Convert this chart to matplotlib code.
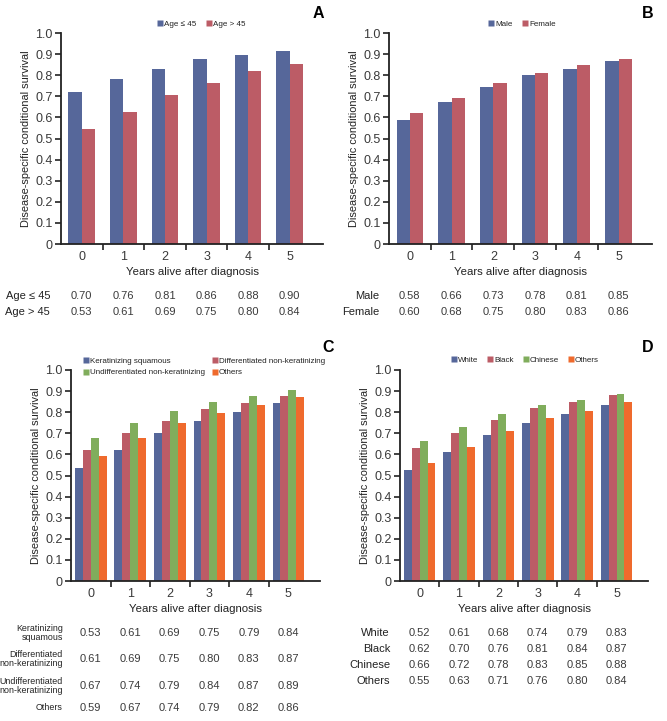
import numpy as np
import matplotlib
matplotlib.use("Agg")
import matplotlib.pyplot as plt
from matplotlib.transforms import blended_transform_factory
from matplotlib.lines import Line2D

plt.rcParams['font.family'] = ['Liberation Sans', 'DejaVu Sans']

years = [0, 1, 2, 3, 4, 5]

# bar heights
age_le45 = [0.72, 0.78, 0.83, 0.875, 0.895, 0.915]
age_gt45 = [0.545, 0.625, 0.705, 0.765, 0.82, 0.855]
male = [0.59, 0.672, 0.745, 0.80, 0.83, 0.868]
female = [0.62, 0.692, 0.762, 0.812, 0.848, 0.878]
kerat = [0.535, 0.62, 0.70, 0.76, 0.80, 0.845]
diff_nk = [0.62, 0.70, 0.76, 0.815, 0.843, 0.878]
undiff_nk = [0.68, 0.75, 0.805, 0.848, 0.878, 0.905]
hist_others = [0.593, 0.678, 0.75, 0.798, 0.833, 0.87]
white = [0.525, 0.61, 0.69, 0.75, 0.793, 0.835]
black = [0.63, 0.70, 0.765, 0.818, 0.85, 0.88]
chinese = [0.662, 0.73, 0.79, 0.832, 0.858, 0.888]
race_others = [0.558, 0.633, 0.712, 0.772, 0.808, 0.848]

# values printed in the tables under the plots
tab_age_le45 = ['0.70', '0.76', '0.81', '0.86', '0.88', '0.90']
tab_age_gt45 = ['0.53', '0.61', '0.69', '0.75', '0.80', '0.84']
tab_male = ['0.58', '0.66', '0.73', '0.78', '0.81', '0.85']
tab_female = ['0.60', '0.68', '0.75', '0.80', '0.83', '0.86']
tab_kerat = ['0.53', '0.61', '0.69', '0.75', '0.79', '0.84']
tab_diff = ['0.61', '0.69', '0.75', '0.80', '0.83', '0.87']
tab_undiff = ['0.67', '0.74', '0.79', '0.84', '0.87', '0.89']
tab_hist_oth = ['0.59', '0.67', '0.74', '0.79', '0.82', '0.86']
tab_white = ['0.52', '0.61', '0.68', '0.74', '0.79', '0.83']
tab_black = ['0.62', '0.70', '0.76', '0.81', '0.84', '0.87']
tab_chinese = ['0.66', '0.72', '0.78', '0.83', '0.85', '0.88']
tab_race_oth = ['0.55', '0.63', '0.71', '0.76', '0.80', '0.84']

BLUE = '#56679a'
RED = '#bc5c66'
GREEN = '#80ad5c'
ORANGE = '#ef6a2d'
TXT = '#3a3a3a'
DARK = '#222222'

W, H = 667, 721
fig = plt.figure(figsize=(W / 100, H / 100), dpi=100)


def px_axes(x0, y_top, x1, y_bot):
    return fig.add_axes([x0 / W, 1 - y_bot / H, (x1 - x0) / W, (y_bot - y_top) / H])


def draw_panel(ax, series, colors, width):
    x = np.arange(len(years))
    n = len(series)
    for i, (vals, c) in enumerate(zip(series, colors)):
        off = (i - (n - 1) / 2) * width
        ax.bar(x + off, vals, width, color=c, edgecolor='none')
    ax.set_xlim(-0.5, 5.8)
    ax.set_ylim(0, 1.0)
    ax.set_yticks(np.arange(0, 1.01, 0.1))
    ax.set_yticklabels(['0'] + ['%.1f' % v for v in np.arange(0.1, 1.01, 0.1)])
    ax.set_xticks(x)
    ax.set_xticklabels([str(y) for y in years])
    ax.set_xticks(np.arange(0.5, 5, 1), minor=True)
    ax.tick_params(axis='x', which='major', length=0, pad=5, labelsize=9, labelcolor=TXT)
    ax.tick_params(axis='x', which='minor', length=4, width=1.2, direction='out', color=DARK)
    ax.tick_params(axis='y', length=4, width=1.2, labelsize=9, labelcolor=TXT, pad=2,
                   color=DARK)
    for s in ['top', 'right']:
        ax.spines[s].set_visible(False)
    for s in ['left', 'bottom']:
        ax.spines[s].set_linewidth(1.3)
        ax.spines[s].set_color(DARK)
    ax.set_xlabel('Years alive after diagnosis', fontsize=8.2, color=DARK, labelpad=3)
    ax.set_ylabel('Disease-specific conditional survival', fontsize=7.9, color=DARK,
                  labelpad=3)


def legend(ax, labels, colors, ncol, xy_px, loc='center', colspacing=1.2):
    handles = [Line2D([], [], marker='s', linestyle='none', markersize=4,
                      markerfacecolor=c, markeredgecolor='none') for c in colors]
    ax.legend(handles, labels, ncol=ncol, loc=loc,
              bbox_to_anchor=(xy_px[0] / W, 1 - xy_px[1] / H),
              bbox_transform=fig.transFigure, frameon=False, fontsize=5.8,
              handletextpad=0.15, columnspacing=colspacing, labelspacing=0.5,
              handlelength=0.7, borderpad=0, labelcolor=DARK)


def table(ax, rows, y_px, label_x_px, fs=8):
    tr = blended_transform_factory(ax.transData, fig.transFigure)
    for (label, vals), yp in zip(rows, y_px):
        yf = 1 - yp / H
        fig.text(label_x_px / W, yf, label, ha='right', va='center', fontsize=fs,
                 color=DARK, linespacing=0.95)
        for xi, v in enumerate(vals):
            ax.text(xi, yf, v, transform=tr, ha='center', va='center', fontsize=8,
                    color=TXT)


# A
axA = px_axes(61, 33, 323, 244)
draw_panel(axA, [age_le45, age_gt45], [BLUE, RED], 0.32)
legend(axA, ['Age \u2264 45', 'Age > 45'], [BLUE, RED], 2, (201, 24))
table(axA, [('Age \u2264 45', tab_age_le45), ('Age > 45', tab_age_gt45)], [296, 312], 50)
fig.text(318 / W, 1 - 13 / H, 'A', fontsize=11.5, fontweight='bold', ha='center', va='center')

# B
axB = px_axes(389, 33, 652, 244)
draw_panel(axB, [male, female], [BLUE, RED], 0.32)
legend(axB, ['Male', 'Female'], [BLUE, RED], 2, (522, 24))
table(axB, [('Male', tab_male), ('Female', tab_female)], [296, 312], 379)
fig.text(648 / W, 1 - 13 / H, 'B', fontsize=11.5, fontweight='bold', ha='center', va='center')

# C
axC = px_axes(71, 370, 320, 581)
draw_panel(axC, [kerat, diff_nk, undiff_nk, hist_others], [BLUE, RED, GREEN, ORANGE], 0.2)
legend(axC, ['Keratinizing squamous', 'Undifferentiated non-keratinizing',
             'Differentiated non-keratinizing', 'Others'],
       [BLUE, GREEN, RED, ORANGE], 2, (79, 353), loc='upper left', colspacing=0.9)
table(axC, [('Keratinizing\nsquamous', tab_kerat),
            ('Differentiated\nnon-keratinizing', tab_diff),
            ('Undifferentiated\nnon-keratinizing', tab_undiff),
            ('Others', tab_hist_oth)], [633, 659, 686, 708], 63, fs=6.4)
fig.text(328 / W, 1 - 347 / H, 'C', fontsize=11.5, fontweight='bold', ha='center', va='center')

# D
axD = px_axes(400, 370, 648, 581)
draw_panel(axD, [white, black, chinese, race_others], [BLUE, RED, GREEN, ORANGE], 0.2)
legend(axD, ['White', 'Black', 'Chinese', 'Others'], [BLUE, RED, GREEN, ORANGE], 4,
       (525, 360), colspacing=1.1)
table(axD, [('White', tab_white), ('Black', tab_black), ('Chinese', tab_chinese),
            ('Others', tab_race_oth)], [633, 649, 665, 681], 390)
fig.text(648 / W, 1 - 347 / H, 'D', fontsize=11.5, fontweight='bold', ha='center', va='center')

fig.savefig('out.png', dpi=100)
